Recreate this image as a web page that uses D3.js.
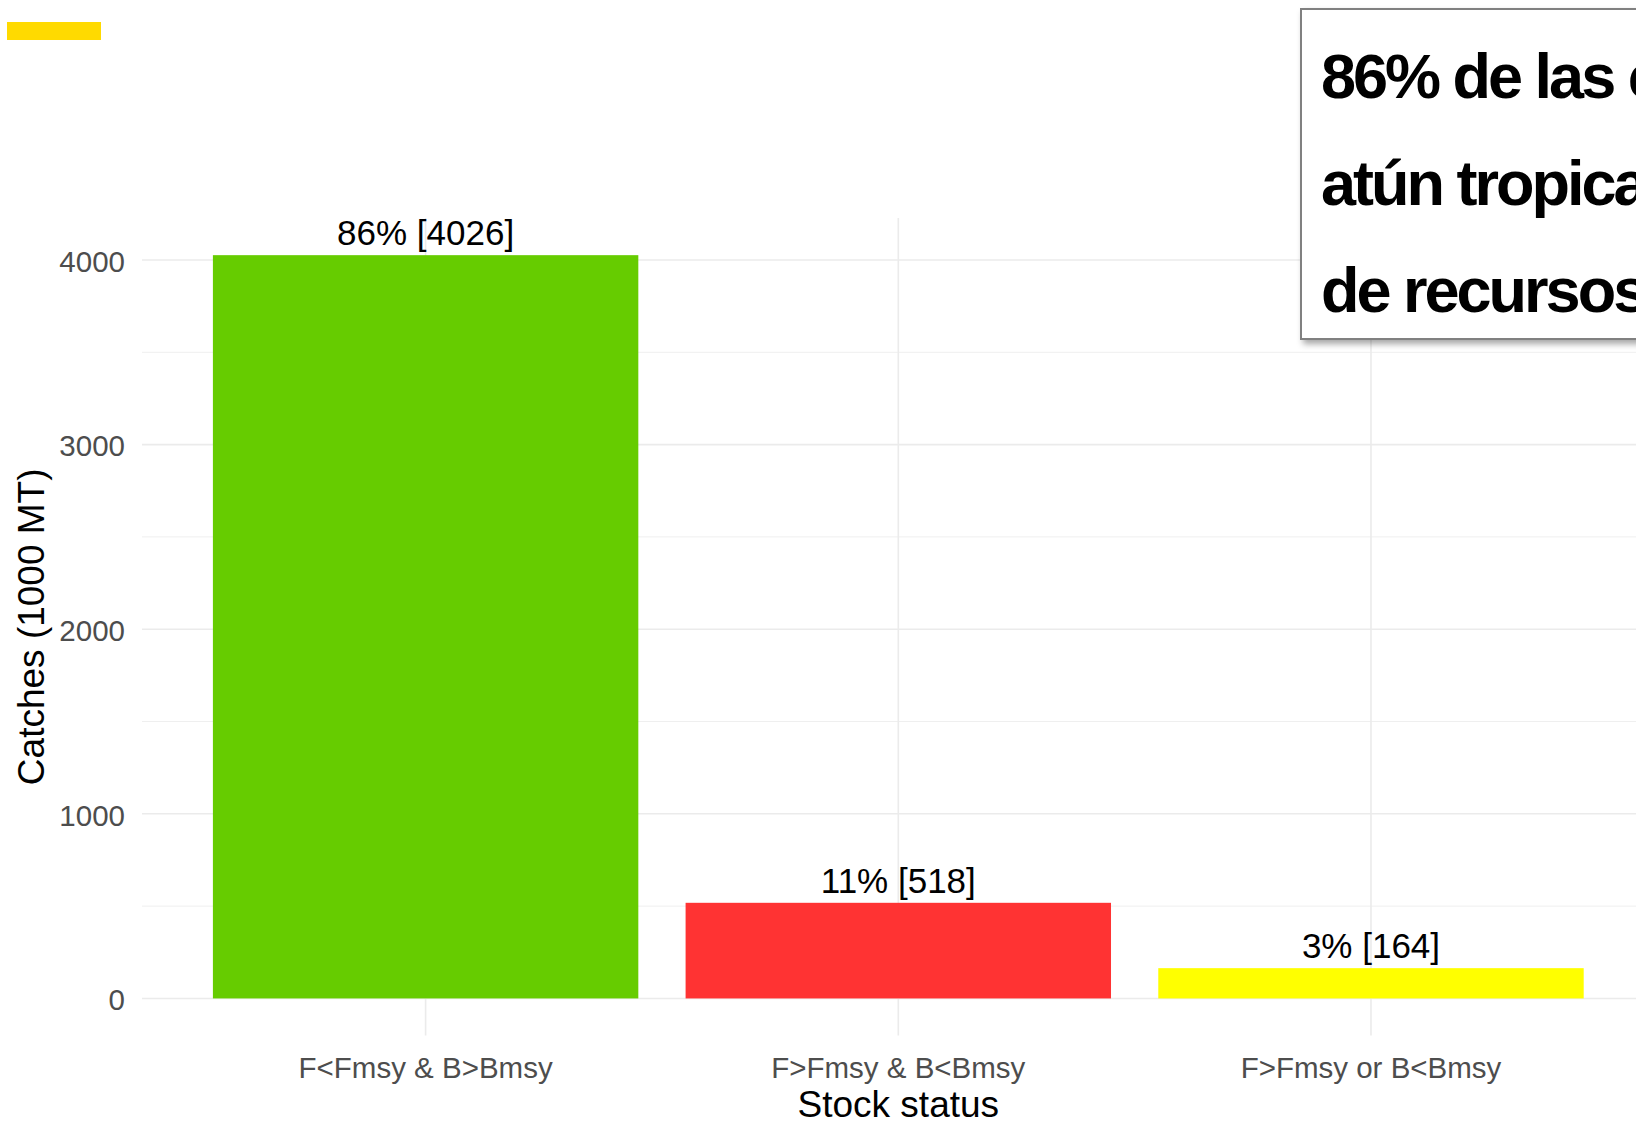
<!DOCTYPE html>
<html>
<head>
<meta charset="utf-8">
<script src="https://cdn.jsdelivr.net/npm/d3@7"></script>
<style>
  body { margin: 0; background: #ffffff; }
  svg { display: block; font-family: "Liberation Sans", Arial, sans-serif; }
</style>
</head>
<body>
<div id="chart"></div>
<script>
// chart data
const categories = ["F<Fmsy & B>Bmsy", "F>Fmsy & B<Bmsy", "F>Fmsy or B<Bmsy"];
const catches = [4026, 518, 164];
const shares = [86, 11, 3];
const barColors = ["#66CC00", "#FF3333", "#FFFF00"];
const yTicks = [0, 1000, 2000, 3000, 4000];
const yMinor = [500, 1500, 2500, 3500];
const boxLines = ["86% de las c", "atún tropica", "de recursos"];

const width = 1636, height = 1125;

const svg = d3.select("#chart")
    .append("svg")
    .attr("width", width)
    .attr("height", height);

// drop shadow for the text box
const defs = svg.append("defs");
const shadow = defs.append("filter")
    .attr("id", "shadow")
    .attr("x", "-10%").attr("y", "-10%")
    .attr("width", "130%").attr("height", "130%");
shadow.append("feDropShadow")
    .attr("dx", 3).attr("dy", 4)
    .attr("stdDeviation", 3)
    .attr("flood-color", "#000")
    .attr("flood-opacity", 0.35);

// panel runs past the right edge, like the original crop
const panel = {left: 142, right: 1654.6, top: 218, bottom: 1035.6};

// ggplot style expansion: 5% on y, 0.6 units on discrete x
const yMax = d3.max(catches);
const x = d3.scaleBand()
    .domain(categories)
    .range([panel.left, panel.right])
    .paddingInner(0.1)
    .paddingOuter(0.15);

const y = d3.scaleLinear()
    .domain([-0.05 * yMax, yMax * 1.05])
    .range([panel.bottom, panel.top]);

// grid lines
svg.append("g").selectAll("line")
    .data(yMinor)
    .enter()
    .append("line")
    .attr("x1", panel.left).attr("x2", width)
    .attr("y1", d => y(d)).attr("y2", d => y(d))
    .attr("stroke", "#EFEFEF")
    .attr("stroke-width", 1);

svg.append("g").selectAll("line")
    .data(yTicks)
    .enter()
    .append("line")
    .attr("x1", panel.left).attr("x2", width)
    .attr("y1", d => y(d)).attr("y2", d => y(d))
    .attr("stroke", "#EBEBEB")
    .attr("stroke-width", 1.6);

svg.append("g").selectAll("line")
    .data(categories)
    .enter()
    .append("line")
    .attr("x1", d => x(d) + x.bandwidth() / 2)
    .attr("x2", d => x(d) + x.bandwidth() / 2)
    .attr("y1", panel.top).attr("y2", panel.bottom)
    .attr("stroke", "#EBEBEB")
    .attr("stroke-width", 1.6);

// bars
svg.append("g").selectAll("rect")
    .data(categories)
    .enter()
    .append("rect")
    .attr("x", d => x(d))
    .attr("width", x.bandwidth())
    .attr("y", (d, i) => y(catches[i]))
    .attr("height", (d, i) => y(0) - y(catches[i]))
    .attr("fill", (d, i) => barColors[i]);

// bar labels
svg.append("g").selectAll("text")
    .data(categories)
    .enter()
    .append("text")
    .attr("x", d => x(d) + x.bandwidth() / 2)
    .attr("y", (d, i) => y(catches[i]) - 10)
    .attr("text-anchor", "middle")
    .attr("font-size", 35)
    .attr("fill", "#000")
    .text((d, i) => shares[i] + "% [" + catches[i] + "]");

// y axis labels
svg.append("g").selectAll("text")
    .data(yTicks)
    .enter()
    .append("text")
    .attr("x", 125)
    .attr("y", d => y(d))
    .attr("dy", "0.4em")
    .attr("text-anchor", "end")
    .attr("font-size", 29.5)
    .attr("fill", "#4D4D4D")
    .text(d => d);

// x axis labels
svg.append("g").selectAll("text")
    .data(categories)
    .enter()
    .append("text")
    .attr("x", d => x(d) + x.bandwidth() / 2)
    .attr("y", 1078)
    .attr("text-anchor", "middle")
    .attr("font-size", 29.5)
    .attr("fill", "#4D4D4D")
    .text(d => d);

// axis titles
svg.append("text")
    .attr("transform", "translate(44," + ((panel.top + panel.bottom) / 2) + ") rotate(-90)")
    .attr("text-anchor", "middle")
    .attr("font-size", 37)
    .attr("fill", "#000")
    .text("Catches (1000 MT)");

svg.append("text")
    .attr("x", (panel.left + panel.right) / 2)
    .attr("y", 1117)
    .attr("text-anchor", "middle")
    .attr("font-size", 37)
    .attr("fill", "#000")
    .text("Stock status");

// yellow mark top left
svg.append("rect")
    .attr("x", 7).attr("y", 22)
    .attr("width", 94).attr("height", 18)
    .attr("fill", "#FFDA00");

// annotation box, cut off at the right edge
svg.append("rect")
    .attr("x", 1301).attr("y", 9)
    .attr("width", 420).attr("height", 330)
    .attr("fill", "#fff")
    .attr("stroke", "#808080")
    .attr("stroke-width", 2)
    .attr("filter", "url(#shadow)");

svg.append("g").selectAll("text")
    .data(boxLines)
    .enter()
    .append("text")
    .attr("x", 1321)
    .attr("y", (d, i) => 98 + i * 107)
    .attr("font-size", 63)
    .attr("font-weight", "bold")
    .attr("letter-spacing", -3)
    .attr("fill", "#000")
    .text(d => d);
</script>
</body>
</html>
